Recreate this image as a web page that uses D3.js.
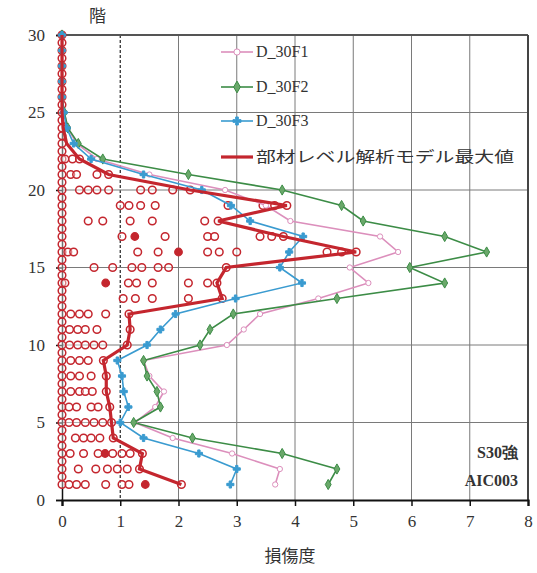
<!DOCTYPE html>
<html>
<head>
<meta charset="utf-8">
<script src="https://cdn.jsdelivr.net/npm/d3@7"></script>
<style>
  body { margin: 0; background: #fff; }
  svg { display: block; }
</style>
</head>
<body>
<svg id="chart" width="537" height="573"></svg>
<script>
// floors 1..30
const floors = [1, 2, 3, 4, 5, 6, 7, 8, 9, 10, 11, 12, 13, 14, 15, 16, 17, 18, 19, 20, 21, 22, 23, 24, 25, 26, 27, 28, 29, 30];

const seriesF1 = [3.66, 3.74, 2.92, 1.9, 1.25, 1.6, 1.75, 1.5, 1.4, 2.83, 3.12, 3.4, 4.4, 5.26, 4.94, 5.77, 5.46, 3.92, 3.5, 2.8, 1.5, 0.6, 0.25, 0.1, 0.04, 0, 0, 0, 0, 0];
const seriesF2 = [4.57, 4.72, 3.78, 2.24, 1.23, 1.69, 1.63, 1.46, 1.4, 2.37, 2.54, 2.94, 4.72, 6.57, 5.97, 7.29, 6.57, 5.17, 4.8, 3.78, 2.17, 0.7, 0.28, 0.1, 0.04, 0, 0, 0, 0, 0];
const seriesF3 = [2.89, 3.0, 2.35, 1.4, 1.0, 1.14, 1.06, 1.03, 0.95, 1.46, 1.69, 1.95, 2.98, 4.12, 3.74, 3.9, 4.14, 3.23, 2.9, 2.4, 1.4, 0.5, 0.2, 0.08, 0.03, 0, 0, 0, 0, 0];
const seriesMax = [2.05, 1.33, 1.38, 0.88, 0.85, 0.82, 0.76, 0.76, 0.71, 1.12, 1.17, 1.15, 2.75, 2.66, 2.82, 5.05, 3.8, 2.68, 3.86, 2.2, 0.8, 0.3, 0.08, 0.02, 0, 0, 0, 0, 0, 0];

// member-level values (zero column listed separately)
const zeroLevels = [1, 1.5, 2, 2.5, 3, 3.5, 4, 4.5, 5, 5.5, 6, 6.5, 7, 7.5, 8, 8.5, 9, 9.5, 10, 10.5, 11, 11.5, 12, 12.5, 13, 13.5, 14, 14.5, 15, 15.5, 16, 16.5, 17, 17.5, 18, 18.5, 19, 19.5, 20, 20.5, 21, 21.5, 22, 22.5, 23, 23.5, 24, 24.5, 25, 25.5, 26, 26.5, 27, 27.5, 28, 28.5, 29, 29.5, 30];
const members = [
  [1, [0.12, 0.25, 0.4, 0.75, 1.03, 1.15, 2.05]],
  [2, [0.28, 0.58, 0.78, 0.95, 1.12, 1.33]],
  [3, [0.14, 0.37, 0.62, 0.87, 1.03, 1.17, 1.38]],
  [4, [0.23, 0.37, 0.5, 0.65, 0.88]],
  [5, [0.12, 0.25, 0.4, 0.55, 0.7, 0.85]],
  [6, [0.12, 0.25, 0.5, 0.62, 0.82]],
  [7, [0.15, 0.3, 0.4, 0.52, 0.76]],
  [8, [0.15, 0.3, 0.5, 0.76]],
  [9, [0.15, 0.3, 0.45, 0.71]],
  [10, [0.13, 0.27, 0.4, 0.55, 0.7, 1.12]],
  [11, [0.13, 0.27, 0.4, 0.6, 1.17]],
  [12, [0.15, 0.3, 0.45, 0.75, 1.15]],
  [13, [1.05, 1.26, 1.55, 2.17, 2.75]],
  [14, [0.05, 1.14, 1.28, 1.55, 2.17, 2.5, 2.66]],
  [15, [0.55, 0.87, 1.2, 1.37, 1.65, 1.83, 2.82]],
  [16, [0.1, 0.2, 1.3, 1.65, 2.5, 2.7, 3.0, 4.55, 4.8, 5.05]],
  [17, [1.03, 1.77, 2.5, 2.62, 3.4, 3.6, 3.8]],
  [18, [0.45, 0.7, 1.17, 1.55, 2.45, 2.68]],
  [19, [1.0, 1.15, 1.35, 1.6, 2.85, 3.45, 3.65, 3.86]],
  [20, [0.3, 0.45, 0.6, 0.8, 1.35, 1.55, 1.9, 2.2]],
  [21, [0.15, 0.25, 0.6, 0.8]],
  [22, [0.05, 0.18, 0.3]]
];
const filledMembers = [[1, 1.43], [3, 0.74], [14, 0.75], [16, 2.0], [17, 1.25]];

const xTicks = [0, 1, 2, 3, 4, 5, 6, 7, 8];
const yTicks = [0, 5, 10, 15, 20, 25, 30];
const legendLabels = ["D_30F1", "D_30F2", "D_30F3", "部材レベル解析モデル最大値"];

const svg = d3.select("#chart");
const x = d3.scaleLinear().domain([0, 8]).range([62, 528]);
const y = d3.scaleLinear().domain([0, 30]).range([500, 35]);

const red = "#c4262e", pink = "#dc8fbc", green = "#3c8c46", blue = "#3a9bd0";
const serif = "'Liberation Serif', 'DejaVu Serif', serif";
const cjk = "'Noto Sans CJK JP', sans-serif";

// grid
svg.append("g").selectAll("line").data([2, 3, 4, 5, 6, 7]).join("line")
  .attr("x1", d => x(d)).attr("x2", d => x(d))
  .attr("y1", y(30)).attr("y2", y(0))
  .attr("stroke", "#7a7a7a").attr("stroke-width", 1);
svg.append("line")
  .attr("x1", x(1)).attr("x2", x(1)).attr("y1", y(30)).attr("y2", y(0))
  .attr("stroke", "#222").attr("stroke-width", 1.2).attr("stroke-dasharray", "3,2");
svg.append("g").selectAll("line").data([5, 10, 15, 20, 25]).join("line")
  .attr("x1", x(0)).attr("x2", x(8))
  .attr("y1", d => y(d)).attr("y2", d => y(d))
  .attr("stroke", "#7a7a7a").attr("stroke-width", 1);

// frame
svg.append("line").attr("x1", x(0)).attr("x2", x(8)).attr("y1", y(30)).attr("y2", y(30))
  .attr("stroke", "#555").attr("stroke-width", 2);
svg.append("line").attr("x1", x(8)).attr("x2", x(8)).attr("y1", y(30)).attr("y2", y(0))
  .attr("stroke", "#444").attr("stroke-width", 2);

// axes
const xAxis = svg.append("g").attr("transform", `translate(0,${y(0)})`)
  .call(d3.axisBottom(x).tickValues(xTicks).tickSize(6).tickPadding(9).tickFormat(d3.format("d")));
xAxis.select(".domain").attr("stroke", "#111").attr("stroke-width", 2.2);
xAxis.selectAll(".tick line").attr("stroke", "#111").attr("stroke-width", 1.5);
xAxis.selectAll("text").attr("font-family", serif).attr("font-size", 17).attr("fill", "#333");

const yAxis = svg.append("g").attr("transform", `translate(${x(0)},0)`)
  .call(d3.axisLeft(y).tickValues(yTicks).tickSize(6).tickPadding(11).tickFormat(d3.format("d")));
yAxis.select(".domain").attr("stroke", "#111").attr("stroke-width", 1.5);
yAxis.selectAll(".tick line").attr("stroke", "#111").attr("stroke-width", 1.5);
yAxis.selectAll("text").attr("font-family", serif).attr("font-size", 17).attr("fill", "#333");

// member circles
const memberPts = [];
zeroLevels.forEach(f => memberPts.push({ f, v: 0 }));
members.forEach(([f, vals]) => vals.forEach(v => memberPts.push({ f, v })));

svg.append("g").selectAll("circle").data(memberPts).join("circle")
  .attr("cx", d => x(d.v)).attr("cy", d => y(d.f)).attr("r", 3.8)
  .attr("fill", "white").attr("fill-opacity", 0.4)
  .attr("stroke", red).attr("stroke-width", 1.5);
svg.append("g").selectAll("circle").data(filledMembers).join("circle")
  .attr("cx", d => x(d[1])).attr("cy", d => y(d[0])).attr("r", 3.8)
  .attr("fill", red).attr("stroke", red).attr("stroke-width", 1.2);

// lines
const line = d3.line().x(d => x(d[1])).y(d => y(d[0]));
function drawSeries(vals, color, width, marker) {
  const pts = floors.map((f, i) => [f, vals[i]]);
  svg.append("path").datum(pts).attr("d", line)
    .attr("fill", "none").attr("stroke", color).attr("stroke-width", width);
  if (marker) {
    svg.append("g").selectAll("path").data(pts).join("path")
      .attr("transform", d => `translate(${x(d[1])},${y(d[0])})`)
      .attr("d", d3.symbol().type(marker.type).size(marker.size))
      .attr("fill", marker.fill).attr("stroke", color).attr("stroke-width", 1);
  }
}
drawSeries(seriesF1, pink, 1.6, { type: d3.symbolCircle, size: 22, fill: "white" });
drawSeries(seriesF2, green, 1.6, { type: d3.symbolDiamond, size: 30, fill: "#6aa86a" });
drawSeries(seriesF3, blue, 1.6, { type: d3.symbolCross, size: 28, fill: blue });
drawSeries(seriesMax, red, 3.2, null);

// legend
const legendRows = [
  { label: legendLabels[0], color: pink, marker: { type: d3.symbolCircle, size: 30, fill: "white" }, w: 1.6 },
  { label: legendLabels[1], color: green, marker: { type: d3.symbolDiamond, size: 40, fill: "#6aa86a" }, w: 1.6 },
  { label: legendLabels[2], color: blue, marker: { type: d3.symbolCross, size: 36, fill: blue }, w: 1.6 },
  { label: legendLabels[3], color: red, marker: null, w: 3.2 }
];
const legendY = [52, 87, 121, 157];
legendRows.forEach((r, i) => {
  const g = svg.append("g").attr("transform", `translate(0,${legendY[i]})`);
  g.append("line").attr("x1", 221).attr("x2", 253).attr("y1", 0).attr("y2", 0)
    .attr("stroke", r.color).attr("stroke-width", r.w);
  if (r.marker) {
    g.append("path").attr("transform", "translate(237,0)")
      .attr("d", d3.symbol().type(r.marker.type).size(r.marker.size))
      .attr("fill", r.marker.fill).attr("stroke", r.color).attr("stroke-width", 1);
  }
  const t = g.append("text").attr("x", 256).attr("y", 5).text(r.label).attr("fill", "#333");
  if (i < 3) {
    t.attr("font-family", serif).attr("font-size", 16);
  } else {
    t.attr("font-family", cjk).attr("font-size", 15).attr("textLength", 258).attr("lengthAdjust", "spacingAndGlyphs");
  }
});

// annotations
svg.append("text").attr("x", 518).attr("y", 458).attr("text-anchor", "end")
  .attr("font-family", serif).attr("font-size", 16).attr("font-weight", "bold").attr("fill", "#333")
  .text("S30強");
svg.append("text").attr("x", 518).attr("y", 486).attr("text-anchor", "end")
  .attr("font-family", serif).attr("font-size", 16).attr("font-weight", "bold").attr("fill", "#333")
  .text("AIC003");

// axis titles
svg.append("text").attr("x", 89).attr("y", 22)
  .attr("font-family", cjk).attr("font-size", 17).attr("fill", "#333").text("階");
svg.append("text").attr("x", 290).attr("y", 562).attr("text-anchor", "middle")
  .attr("font-family", cjk).attr("font-size", 17).attr("fill", "#333").text("損傷度");
</script>
</body>
</html>
